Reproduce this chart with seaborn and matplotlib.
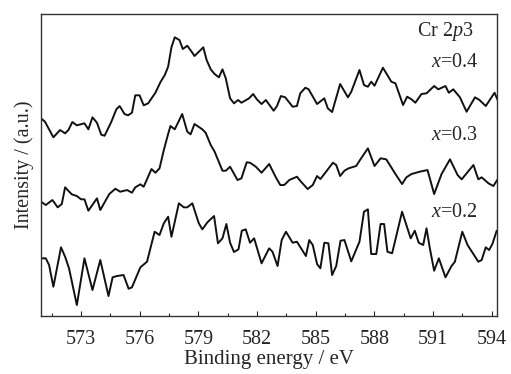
import matplotlib
matplotlib.use("Agg")
import matplotlib.pyplot as plt
from matplotlib.ticker import MultipleLocator
import pandas as pd
import seaborn as sns

# Cr 2p3 XPS spectra (energy in eV, intensity in a.u., offset per sample)
energy_04 = [570.95, 571.15, 571.58, 571.92, 572.18, 572.35, 572.55, 572.78, 573.17, 573.37,
             573.58, 573.81, 574.03, 574.20, 574.54, 574.80, 574.97, 575.22, 575.40, 575.60,
             575.77, 575.99, 576.20, 576.43, 576.80, 577.06, 577.28, 577.45, 577.62, 577.79,
             578.03, 578.20, 578.43, 578.69, 578.80, 579.25, 579.42, 579.63, 579.83, 580.05,
             580.23, 580.40, 580.62, 580.82, 581.03, 581.20, 581.59, 581.80, 581.99, 582.23,
             582.45, 582.85, 583.02, 583.22, 583.44, 583.82, 584.04, 584.21, 584.47, 584.64,
             585.07, 585.44, 585.62, 585.84, 586.25, 586.65, 586.82, 587.24, 587.47, 587.67,
             587.84, 588.01, 588.44, 588.87, 589.08, 589.47, 589.68, 589.90, 590.10, 590.41,
             590.67, 591.06, 591.27, 591.64, 591.81, 592.04, 592.38, 592.72, 593.15, 593.38,
             593.70, 594.15, 594.31]
intensity_04 = [197.7, 194.3, 178.7, 186.0, 182.7, 186.0, 194.0, 190.7, 192.7, 186.7,
                198.7, 193.3, 181.3, 180.3, 194.0, 206.7, 210.0, 202.0, 200.7, 203.3,
                220.7, 220.7, 210.7, 212.7, 223.3, 234.0, 241.0, 249.3, 268.7, 278.7,
                276.0, 267.0, 270.3, 263.3, 260.0, 268.7, 256.0, 246.7, 242.0, 238.7,
                246.7, 237.7, 217.7, 212.7, 216.0, 213.3, 217.7, 222.0, 216.7, 212.0,
                216.0, 205.3, 210.0, 220.0, 218.7, 209.3, 210.0, 222.7, 228.3, 226.7,
                212.0, 217.7, 207.7, 204.0, 232.0, 218.7, 224.3, 246.0, 231.0, 229.3,
                234.3, 230.3, 248.3, 234.3, 232.7, 211.0, 219.3, 216.7, 213.3, 222.0,
                222.7, 230.0, 226.7, 230.0, 223.3, 226.7, 218.7, 204.3, 218.7, 216.0,
                210.0, 223.3, 216.0]

energy_03 = [570.95, 571.19, 571.53, 571.80, 572.01, 572.18, 572.52, 572.78, 573.00, 573.17,
             573.37, 573.81, 573.98, 574.44, 574.75, 575.00, 575.35, 575.60, 575.77, 576.03,
             576.20, 576.60, 576.80, 577.01, 577.23, 577.45, 577.57, 577.79, 578.17, 578.43,
             578.60, 578.80, 579.20, 579.37, 579.63, 579.83, 580.23, 580.40, 580.62, 581.00,
             581.20, 581.47, 581.64, 581.94, 582.23, 582.62, 582.96, 583.19, 583.39, 583.65,
             584.04, 584.25, 584.59, 584.85, 585.07, 585.24, 585.44, 585.88, 586.05, 586.25,
             586.47, 586.68, 587.07, 587.29, 587.67, 588.01, 588.32, 588.61, 589.08, 589.42,
             589.64, 589.90, 590.32, 590.72, 591.06, 591.44, 591.87, 592.26, 592.47, 592.72,
             593.07, 593.32, 593.49, 593.84, 594.09, 594.31]
intensity_03 = [114.3, 111.0, 116.0, 108.7, 112.0, 128.7, 121.7, 120.0, 116.7, 116.7,
                105.3, 117.7, 106.0, 122.0, 127.3, 124.3, 126.0, 123.3, 128.7, 131.7,
                129.3, 147.0, 143.3, 147.7, 166.0, 182.0, 190.0, 186.7, 202.0, 184.3,
                181.7, 192.0, 186.7, 183.3, 171.0, 164.3, 145.3, 145.3, 149.3, 136.0,
                137.7, 153.7, 153.3, 149.3, 143.3, 152.0, 138.7, 131.0, 131.0, 136.0,
                139.3, 134.3, 127.0, 131.0, 140.0, 137.0, 142.0, 153.3, 151.0, 140.0,
                145.3, 147.7, 150.0, 156.7, 167.7, 150.0, 157.7, 156.7, 142.0, 132.0,
                138.7, 142.0, 144.3, 146.0, 122.0, 142.0, 156.7, 141.0, 136.7, 142.7,
                151.0, 136.7, 138.7, 132.7, 130.0, 136.7]

energy_02 = [570.95, 571.19, 571.36, 571.58, 571.97, 572.18, 572.38, 572.78, 573.17, 573.58,
             573.98, 574.40, 574.61, 574.83, 575.17, 575.43, 575.60, 576.03, 576.37, 576.76,
             577.01, 577.23, 577.45, 577.62, 578.00, 578.25, 578.43, 578.69, 579.02, 579.20,
             579.46, 579.80, 580.00, 580.23, 580.43, 580.62, 580.82, 581.05, 581.22, 581.42,
             581.64, 581.85, 582.23, 582.62, 582.79, 583.05, 583.26, 583.48, 583.82, 584.04,
             584.50, 584.67, 584.85, 585.07, 585.24, 585.44, 585.65, 585.84, 586.05, 586.27,
             586.47, 586.82, 587.24, 587.47, 587.67, 587.84, 588.10, 588.32, 588.50, 588.67,
             588.91, 589.42, 589.86, 590.07, 590.27, 590.50, 590.67, 590.84, 591.06, 591.30,
             591.64, 591.95, 592.12, 592.50, 592.77, 593.32, 593.49, 593.70, 593.87, 594.04,
             594.26]
intensity_02 = [57.7, 57.7, 51.0, 29.3, 68.7, 59.3, 47.7, 11.0, 57.7, 26.0,
                56.0, 20.0, 38.7, 40.0, 41.0, 27.3, 28.7, 48.7, 54.3, 84.3,
                81.0, 92.7, 99.3, 79.3, 112.7, 108.7, 108.7, 112.7, 92.7, 86.7,
                93.7, 100.0, 72.7, 77.7, 92.0, 73.3, 64.0, 66.7, 85.3, 86.7,
                73.3, 77.7, 52.7, 67.7, 64.3, 50.0, 76.0, 84.3, 73.3, 74.3,
                60.0, 76.0, 71.0, 52.0, 47.7, 73.3, 72.7, 41.0, 50.0, 75.3,
                76.0, 54.7, 74.3, 104.3, 106.7, 62.0, 62.0, 92.0, 92.0, 64.3,
                62.7, 104.3, 77.7, 85.3, 73.3, 71.0, 87.7, 67.7, 45.3, 57.7,
                38.7, 50.0, 54.3, 84.3, 71.0, 54.3, 56.0, 68.7, 66.0, 72.0,
                85.3]

samples = ["x=0.4", "x=0.3", "x=0.2"]
sample_labels = ["$x$=0.4", "$x$=0.3", "$x$=0.2"]
label_energy = [592.1, 592.1, 592.1]
label_intensity = [254, 181, 104]

df = pd.concat([
    pd.DataFrame({"energy": energy_04, "intensity": intensity_04, "sample": "x=0.4"}),
    pd.DataFrame({"energy": energy_03, "intensity": intensity_03, "sample": "x=0.3"}),
    pd.DataFrame({"energy": energy_02, "intensity": intensity_02, "sample": "x=0.2"}),
])

sns.set_style("white")
plt.rcParams["font.family"] = ["Liberation Serif", "DejaVu Serif"]
plt.rcParams["mathtext.fontset"] = "custom"
plt.rcParams["mathtext.rm"] = "Liberation Serif"
plt.rcParams["mathtext.it"] = "Liberation Serif:italic"

fig = plt.figure(figsize=(5.11, 3.74), dpi=100)
ax = fig.add_axes([0.0796, 0.155, 0.8924, 0.8075])

for s in samples:
    sns.lineplot(data=df[df["sample"] == s], x="energy", y="intensity",
                 color="#111111", linewidth=1.4, sort=False, estimator=None, ax=ax)

for lab, ex, iy in zip(sample_labels, label_energy, label_intensity):
    ax.text(ex, iy, lab, fontsize=14.5, ha="center", va="center")
ax.text(591.64, 285, "Cr 2$p$3", fontsize=14.5, ha="center", va="center")

ax.set_xlim(570.93, 594.26)
ax.set_ylim(0, 302)
ax.xaxis.set_major_locator(MultipleLocator(3))
ax.xaxis.set_minor_locator(MultipleLocator(1.5))
ax.tick_params(axis="x", which="major", direction="in", length=3.5, width=0.8,
               labelsize=14.5, pad=10, bottom=True, top=False)
ax.tick_params(axis="x", which="minor", direction="in", length=2, width=0.8,
               bottom=True, top=False)
ax.set_yticks([])

for sp in ax.spines.values():
    sp.set_color("#333333")
    sp.set_linewidth(1.0)

ax.set_xlabel("Binding energy / eV", fontsize=15, labelpad=1)
ax.set_ylabel("Intensity / (a.u.)", fontsize=14.5, labelpad=5)

fig.savefig("out.png", dpi=100)
